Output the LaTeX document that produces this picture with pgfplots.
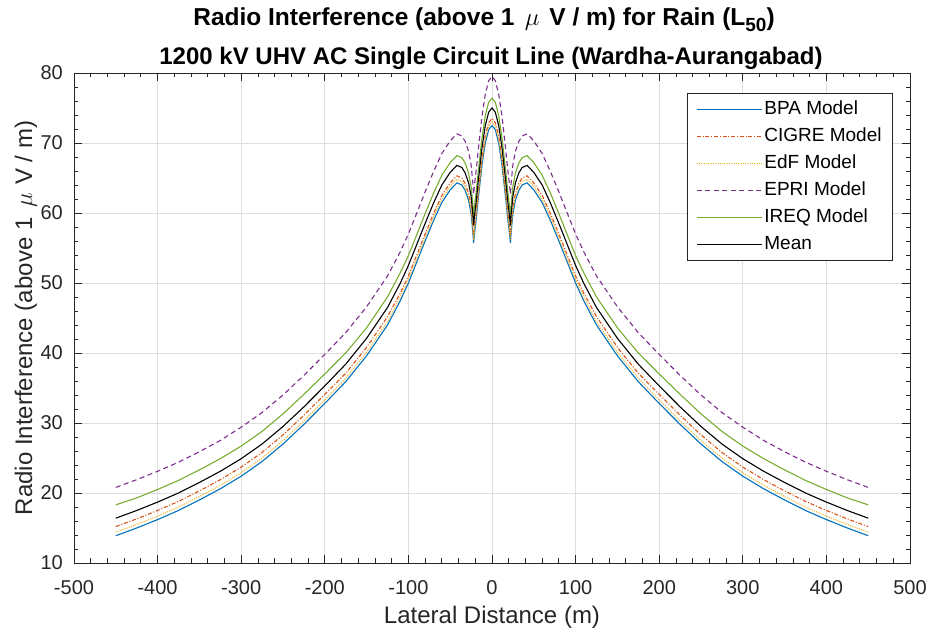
\documentclass[border=0pt]{standalone}
\usepackage{pgfplots}
\pgfplotsset{compat=1.18}
\usepackage{pgfplotstable}
\usepackage{fontspec}
\setmainfont{Liberation Sans}
\definecolor{mblue}{rgb}{0,0.447,0.741}
\definecolor{morange}{rgb}{0.85,0.325,0.098}
\definecolor{myellow}{rgb}{0.929,0.694,0.125}
\definecolor{mpurple}{rgb}{0.494,0.184,0.556}
\definecolor{mgreen}{rgb}{0.466,0.674,0.188}
\definecolor{axisgray}{rgb}{0.15,0.15,0.15}
\definecolor{gridgray}{rgb}{0.87,0.87,0.87}
\pgfplotstableread{
x bpa cigre edf epri ireq mean
-450 13.9 15.2 14.4 20.8 18.3 16.4
-425 15.0 16.3 15.5 21.9 19.3 17.5
-400 16.2 17.5 16.7 23.1 20.5 18.7
-375 17.5 18.8 18.0 24.4 21.8 20.0
-350 19.0 20.3 19.5 25.9 23.3 21.5
-325 20.6 21.9 21.1 27.5 24.9 23.1
-300 22.4 23.7 22.9 29.4 26.7 24.9
-275 24.5 25.8 25.0 31.5 28.8 27.0
-250 27.0 28.3 27.5 34.0 31.3 29.5
-225 29.8 31.1 30.3 36.8 34.1 32.3
-200 32.8 34.1 33.3 39.8 37.0 35.3
-175 35.9 37.1 36.4 42.9 40.0 38.4
-150 39.6 40.8 40.1 46.6 43.6 42.1
-125 44.0 45.2 44.5 51.0 48.0 46.5
-110 47.4 48.5 47.9 54.4 51.4 49.9
-100 50.0 51.0 50.5 57.0 53.9 52.5
-90 53.0 54.0 53.5 60.0 56.9 55.5
-80 56.0 57.0 56.5 63.0 59.9 58.5
-70 58.9 59.9 59.4 65.9 62.8 61.4
-60 61.5 62.5 62.0 68.5 65.4 64.0
-50 63.3 64.3 63.8 70.3 67.2 65.8
-42 64.3 65.3 64.8 71.3 68.2 66.8
-36 64.0 65.0 64.5 71.0 67.9 66.5
-32 63.2 64.2 63.7 70.2 67.1 65.7
-28 61.8 62.8 62.3 68.8 65.7 64.3
-25 59.9 60.9 60.4 66.9 63.8 62.4
-23 57.4 58.4 57.9 64.4 61.3 59.9
-22 55.7 56.7 56.2 62.7 59.6 58.2
-21 57.0 58.0 57.5 64.0 60.9 59.5
-19 59.0 60.0 59.5 66.0 62.9 61.5
-16 62.5 63.5 63.0 69.5 66.4 65.0
-12 66.8 67.8 67.3 73.8 70.7 69.3
-8 70.0 71.0 70.5 77.0 73.9 72.5
-4 71.9 72.9 72.4 78.9 75.8 74.4
0 72.5 73.5 73.0 79.5 76.4 75.0
4 71.9 72.9 72.4 78.9 75.8 74.4
8 70.0 71.0 70.5 77.0 73.9 72.5
12 66.8 67.8 67.3 73.8 70.7 69.3
16 62.5 63.5 63.0 69.5 66.4 65.0
19 59.0 60.0 59.5 66.0 62.9 61.5
21 57.0 58.0 57.5 64.0 60.9 59.5
22 55.7 56.7 56.2 62.7 59.6 58.2
23 57.4 58.4 57.9 64.4 61.3 59.9
25 59.9 60.9 60.4 66.9 63.8 62.4
28 61.8 62.8 62.3 68.8 65.7 64.3
32 63.2 64.2 63.7 70.2 67.1 65.7
36 64.0 65.0 64.5 71.0 67.9 66.5
42 64.3 65.3 64.8 71.3 68.2 66.8
50 63.3 64.3 63.8 70.3 67.2 65.8
60 61.5 62.5 62.0 68.5 65.4 64.0
70 58.9 59.9 59.4 65.9 62.8 61.4
80 56.0 57.0 56.5 63.0 59.9 58.5
90 53.0 54.0 53.5 60.0 56.9 55.5
100 50.0 51.0 50.5 57.0 53.9 52.5
110 47.4 48.5 47.9 54.4 51.4 49.9
125 44.0 45.2 44.5 51.0 48.0 46.5
150 39.6 40.8 40.1 46.6 43.6 42.1
175 35.9 37.1 36.4 42.9 40.0 38.4
200 32.8 34.1 33.3 39.8 37.0 35.3
225 29.8 31.1 30.3 36.8 34.1 32.3
250 27.0 28.3 27.5 34.0 31.3 29.5
275 24.5 25.8 25.0 31.5 28.8 27.0
300 22.4 23.7 22.9 29.4 26.7 24.9
325 20.6 21.9 21.1 27.5 24.9 23.1
350 19.0 20.3 19.5 25.9 23.3 21.5
375 17.5 18.8 18.0 24.4 21.8 20.0
400 16.2 17.5 16.7 23.1 20.5 18.7
425 15.0 16.3 15.5 21.9 19.3 17.5
450 13.9 15.2 14.4 20.8 18.3 16.4
}\ridata
\begin{document}
\begin{tikzpicture}[x=1pt,y=1pt]
\useasboundingbox (0,0) rectangle (930,636);
\node[anchor=base, font=\bfseries\fontsize{24.5}{28}\selectfont, text=black] at (484,610) {Radio Interference (above 1\hspace{0.42em}{\fontsize{26}{28}\selectfont$\mu$}\hspace{0.4em}V / m) for Rain (L\raisebox{-0.4ex}{\fontsize{19}{20}\selectfont 50})};
\node[anchor=base, font=\bfseries\fontsize{24}{28}\selectfont, text=black] at (491,571) {1200 kV UHV AC Single Circuit Line (Wardha-Aurangabad)};
\begin{axis}[
  at={(74pt,73pt)}, anchor=south west,
  width=836pt, height=490pt, scale only axis,
  xmin=-500, xmax=500, ymin=10, ymax=80,
  xtick={-500,-400,...,500}, ytick={10,20,...,80},
  minor x tick num=4, minor y tick num=4,
  tick align=inside, major tick length=8pt, minor tick length=4.5pt,
  grid=major, major grid style={color=gridgray, line width=0.7pt},
  axis line style={color=axisgray, line width=0.8pt},
  every tick/.style={color=axisgray, line width=0.8pt},
  /pgf/number format/assume math mode=true,
  ticklabel style={font=\fontsize{20}{24}\selectfont, text=axisgray},
  xticklabel style={anchor=base, yshift=-32pt},
  yticklabel style={anchor=east, inner sep=0pt, xshift=-11pt},
  xlabel={Lateral Distance (m)},
  ylabel={Radio Interference (above 1\hspace{0.4em}$\mu$\hspace{0.35em}V / m)},
  label style={font=\fontsize{24}{28}\selectfont, text=axisgray},
  xlabel style={at={(axis description cs:0.5,0)}, anchor=center, yshift=-54pt},
  ylabel style={at={(axis description cs:0,0.5)}, anchor=center, yshift=48pt},
  legend cell align=left,
  legend image code/.code={\draw[#1, line width=1.1pt] (0pt,0pt) -- (65pt,0pt);},
  legend style={at={(1,1)}, anchor=north east, xshift=-17pt, yshift=-20pt,
    draw=axisgray, line width=0.8pt, fill=white,
    font=\fontsize{19}{22}\selectfont, text=black,
    row sep=5pt, inner xsep=9pt, inner ysep=5pt,
    nodes={text height=14pt, text depth=4pt, inner sep=2pt}},
]
\addplot[mblue, line width=1.1pt] table[x=x, y=bpa] {\ridata};
\addlegendentry{BPA Model}
\addplot[morange, line width=1.1pt, dash pattern=on 4pt off 1.8pt on 1pt off 1.8pt] table[x=x, y=cigre] {\ridata};
\addlegendentry{CIGRE Model}
\addplot[myellow, line width=1.1pt, dash pattern=on 1pt off 1.3pt] table[x=x, y=edf] {\ridata};
\addlegendentry{EdF Model}
\addplot[mpurple, line width=1.1pt, dash pattern=on 5pt off 3.5pt] table[x=x, y=epri] {\ridata};
\addlegendentry{EPRI Model}
\addplot[mgreen, line width=1.1pt] table[x=x, y=ireq] {\ridata};
\addlegendentry{IREQ Model}
\addplot[black, line width=1.1pt] table[x=x, y=mean] {\ridata};
\addlegendentry{Mean}
\end{axis}
\end{tikzpicture}
\end{document}
